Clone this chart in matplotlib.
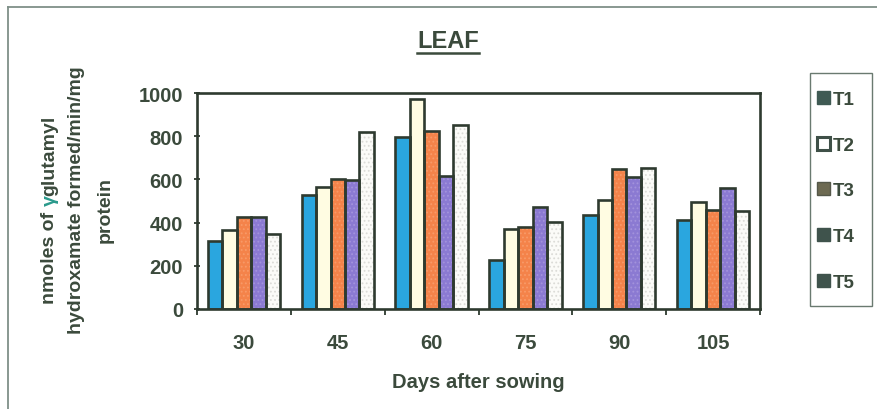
import matplotlib
matplotlib.use("Agg")
import matplotlib.pyplot as plt
import numpy as np
from matplotlib.patches import Patch, Rectangle
from matplotlib.lines import Line2D

# Data: gamma-glutamyl transferase activity in leaf tissue
days = ["30", "45", "60", "75", "90", "105"]
treatments = ["T1", "T2", "T3", "T4", "T5"]
T1 = [315, 530, 795, 225, 435, 410]
T2 = [365, 565, 972, 370, 505, 495]
T3 = [428, 600, 826, 380, 646, 460]
T4 = [425, 598, 615, 472, 610, 558]
T5 = [346, 820, 854, 403, 655, 452]
series = [T1, T2, T3, T4, T5]

fills = ["#2aa6df", "#fffce2", "#f4834a", "#8b7ad2", "#fbfbf8"]
dots = [None, None, "#f89a68", "#a393dc", "#dcdcd8"]
edge = "#2e3a2f"
txt = "#3b4a3c"

W, H = 877, 410
plt.rcParams["font.family"] = ["Liberation Sans", "DejaVu Sans"]
plt.rcParams["font.weight"] = "bold"
plt.rcParams["axes.labelweight"] = "bold"
plt.rcParams["hatch.linewidth"] = 0.8

fig = plt.figure(figsize=(W / 100, H / 100), dpi=100)
fig.patch.set_facecolor("white")


def px(x, y):
    return x / W, 1 - y / H


# outer chart frame (top and left edges)
fig.add_artist(Line2D([8 / W, 1], [1 - 8 / H] * 2, color="#7f9088", lw=1.3))
fig.add_artist(Line2D([8 / W] * 2, [0, 1 - 8 / H], color="#7f9088", lw=1.3))

ax = fig.add_axes([197 / W, 1 - 310 / H, (760 - 197) / W, (310 - 94) / H])

x = np.arange(len(days))
w = 1 / 6.5
for j, vals in enumerate(series):
    pos = x + (j - 2) * w
    if dots[j]:
        ax.bar(pos, vals, w, color=fills[j], edgecolor=dots[j], hatch="....",
               linewidth=0, zorder=2)
    else:
        ax.bar(pos, vals, w, color=fills[j], linewidth=0, zorder=2)
    ax.bar(pos, vals, w, fill=False, edgecolor=edge, linewidth=1.9, zorder=3)

ax.set_xlim(-0.5, len(days) - 0.5)
ax.set_ylim(0, 1000)
ax.set_yticks(np.arange(0, 1001, 200))
ax.set_xticks(x)
ax.set_xticklabels(days)
ax.set_xticks(np.arange(-0.5, len(days), 1), minor=True)
for s in ax.spines.values():
    s.set_color(edge)
    s.set_linewidth(1.9)
ax.tick_params(axis="y", direction="inout", length=5, width=1.3, color=edge,
               labelsize=14.5, labelcolor=txt, pad=7.5)
ax.tick_params(axis="x", which="major", length=0, labelsize=14.5,
               labelcolor=txt, pad=17)
ax.tick_params(axis="x", which="minor", direction="out", length=4.5,
               width=1.3, color=edge)
ax.set_xlabel("Days after sowing", fontsize=14.5, color=txt, labelpad=15)

# title with underline
title = fig.text(*px(448, 41), "LEAF", fontsize=17, color=txt,
                 ha="center", va="center")

# y-axis label, three rotated lines, gamma in teal
ylab_kw = dict(rotation=90, rotation_mode="anchor", fontsize=14, color=txt)
a = fig.text(*px(50, 304), "nmoles of ", ha="left", va="center", **ylab_kw)
g = fig.text(0, 0, "γ", ha="left", va="center", **{**ylab_kw, "color": "#2a9a8c"})
b = fig.text(0, 0, "glutamyl", ha="left", va="center", **ylab_kw)
fig.text(*px(77, 200), "hydroxamate formed/min/mg", ha="center", va="center",
         **ylab_kw)
fig.text(*px(105, 210), "protein", ha="center", va="center", **ylab_kw)

# legend, with its own box
handles = [
    Patch(facecolor="#3f5a53", edgecolor="#3f5a53", label="T1"),
    Patch(facecolor="white", edgecolor="#3f5048", linewidth=2.2, label="T2"),
    Patch(facecolor="#6d6a52", edgecolor="#55584a", label="T3"),
    Patch(facecolor="#3f534c", edgecolor="#3f534c", label="T4"),
    Patch(facecolor="#3f534c", edgecolor="#3f534c", label="T5"),
]
leg = fig.legend(handles=handles, loc="upper left",
                 bbox_to_anchor=px(817, 92), bbox_transform=fig.transFigure,
                 fontsize=13.5, handlelength=0.7, handleheight=0.7,
                 handletextpad=0.15, labelspacing=1.52, borderpad=0,
                 borderaxespad=0, frameon=False)
for t in leg.get_texts():
    t.set_color(txt)
fig.add_artist(Rectangle(px(810, 307), 62 / W, 233 / H, fill=False,
                         edgecolor="#6a7a70", linewidth=1.0,
                         transform=fig.transFigure))

# place chained pieces and underline once sizes are known
fig.canvas.draw()
r = fig.canvas.get_renderer()
inv = fig.transFigure.inverted()
ea = a.get_window_extent(r)
g.set_position(inv.transform((ea.x0 + ea.width / 2, ea.y1)))
fig.canvas.draw()
eg = g.get_window_extent(r)
b.set_position(inv.transform((ea.x0 + ea.width / 2, eg.y1)))
et = title.get_window_extent(r)
(u0, uy), (u1, _) = inv.transform([(et.x0, et.y0 - 1), (et.x1, et.y0)])
fig.add_artist(Line2D([u0, u1], [uy, uy], color=txt, lw=1.8))

fig.savefig("out.png", dpi=100, facecolor="white")
